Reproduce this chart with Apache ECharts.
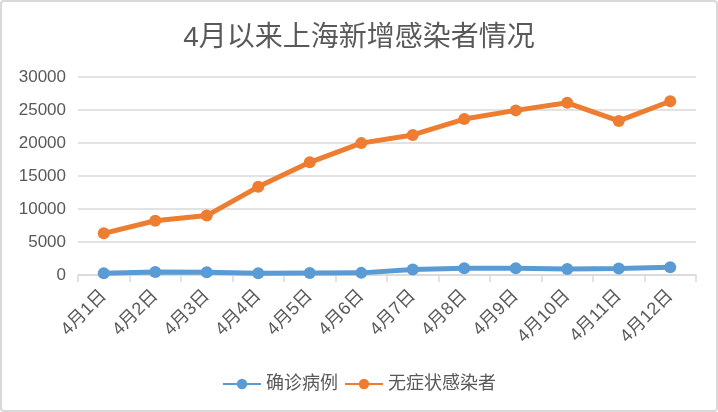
<!DOCTYPE html>
<html>
<head>
<meta charset="utf-8">
<script src="https://cdn.jsdelivr.net/npm/echarts@6/dist/echarts.min.js"></script>
<style>
html,body{margin:0;padding:0;background:#fff;}
#chart{width:714px;height:408px;border:2px solid #d9d9d9;border-radius:4px;}
</style>
</head>
<body>
<div id="chart"></div>
<script>
// 日期
var days = ['4月1日','4月2日','4月3日','4月4日','4月5日','4月6日','4月7日','4月8日','4月9日','4月10日','4月11日','4月12日'];
// 确诊病例
var confirmed = [260, 438, 425, 268, 311, 322, 824, 1015, 1006, 914, 994, 1189];
// 无症状感染者 (堆积在确诊之上)
var asymptomatic = [6051, 7788, 8581, 13086, 16766, 19660, 20398, 22609, 23937, 25173, 22348, 25141];

var font = '"Liberation Sans", "Noto Sans CJK SC", sans-serif';
var txt = '#595959';

var chart = echarts.init(document.getElementById('chart'));
chart.setOption({
    animation: false,
    textStyle: {fontFamily: font},
    title: {
        text: '4月以来上海新增感染者情况',
        left: 'center',
        top: 17,
        textStyle: {fontSize: 28, fontWeight: 'normal', color: txt, fontFamily: font}
    },
    legend: {
        bottom: 12,
        left: 'center',
        itemWidth: 38,
        itemHeight: 13,
        itemGap: 6,
        textStyle: {fontSize: 18, color: txt, fontFamily: font},
        data: ['确诊病例', '无症状感染者']
    },
    grid: {left: 76, right: 20, top: 75, bottom: 135},
    xAxis: {
        type: 'category',
        data: days,
        boundaryGap: true,
        axisLine: {lineStyle: {color: '#d9d9d9', width: 1.5}},
        axisTick: {show: true, length: 7, lineStyle: {color: '#d9d9d9', width: 1.5}},
        axisLabel: {rotate: 45, fontSize: 18, color: txt, margin: 18, interval: 0}
    },
    yAxis: {
        type: 'value',
        min: 0,
        max: 30000,
        interval: 5000,
        axisLine: {show: false},
        axisTick: {show: false},
        axisLabel: {fontSize: 17, color: txt, margin: 12, formatter: function (v) { return String(v); }},
        splitLine: {lineStyle: {color: '#d9d9d9', width: 1.5}}
    },
    series: [
        {
            name: '确诊病例',
            type: 'line',
            stack: 'total',
            data: confirmed,
            symbol: 'circle',
            symbolSize: 12,
            color: '#5b9bd5',
            lineStyle: {width: 5}
        },
        {
            name: '无症状感染者',
            type: 'line',
            stack: 'total',
            data: asymptomatic,
            symbol: 'circle',
            symbolSize: 12,
            color: '#ed7d31',
            lineStyle: {width: 5}
        }
    ]
});
</script>
</body>
</html>
